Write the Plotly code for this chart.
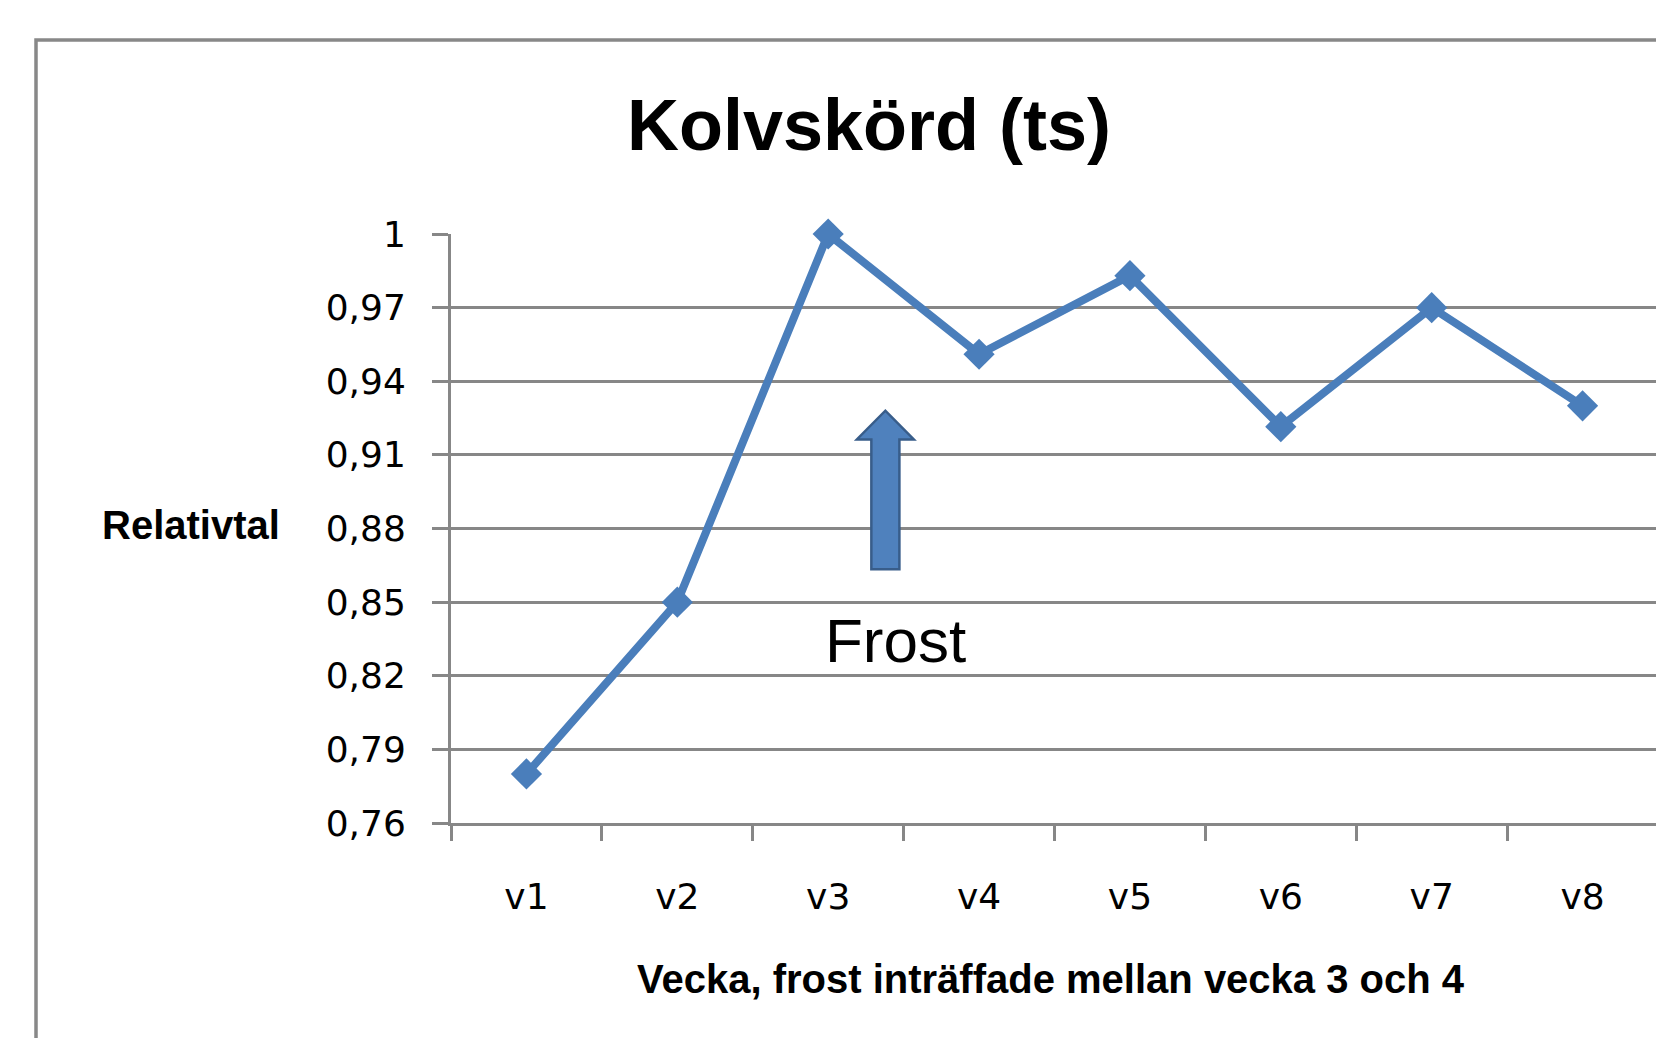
import plotly.graph_objects as go

# ---- data ----
categories = ["v1", "v2", "v3", "v4", "v5", "v6", "v7", "v8"]
relativtal = [0.78, 0.85, 1.0, 0.951, 0.983, 0.9215, 0.970, 0.930]
y_tickvals = [0.76, 0.79, 0.82, 0.85, 0.88, 0.91, 0.94, 0.97, 1.0]
y_ticktext = ["0,76", "0,79", "0,82", "0,85", "0,88", "0,91", "0,94", "0,97", "1"]

title_text = "Kolvskörd (ts)"
x_title = "Vecka, frost inträffade mellan vecka 3 och 4"
y_title = "Relativtal"
frost_text = "Frost"

# ---- layout geometry (pixels, page coords; page body has an 8px margin) ----
OFF = 8
W, H = 1664 - OFF, 1038 - OFF
L, R, T, B = 451 - OFF, 6, 234 - OFF, 223 - OFF
PW, PH = W - L - R, H - T - B

def px(xp):
    return (xp - OFF - L) / PW

def py(yp):
    return (H - B - (yp - OFF)) / PH

GRID = "#878787"
BLUE = "#4A7EBB"
FONT = "Liberation Sans, Arial, sans-serif"
TICKFONT = "DejaVu Sans, Verdana, sans-serif"

fig = go.Figure()
fig.add_trace(go.Scatter(
    x=categories, y=relativtal, mode="lines+markers",
    line=dict(color=BLUE, width=8),
    marker=dict(symbol="diamond", size=24, color=BLUE),
    showlegend=False, cliponaxis=False,
))

fig.update_layout(
    width=W, height=H,
    margin=dict(l=L, r=R, t=T, b=B),
    paper_bgcolor="white", plot_bgcolor="white",
    xaxis=dict(
        type="category", range=[-0.5, 7.5], tickson="boundaries",
        ticks="outside", ticklen=15, tickwidth=3, tickcolor=GRID,
        showgrid=False, showline=True, linecolor=GRID, linewidth=3,
        tickfont=dict(family=TICKFONT, size=36, color="#000"),
        ticklabelstandoff=40, zeroline=False,
    ),
    yaxis=dict(
        range=[0.76, 1.0], tickvals=y_tickvals, ticktext=y_ticktext,
        ticks="outside", ticklen=16, tickwidth=3, tickcolor=GRID,
        showgrid=True, gridcolor=GRID, gridwidth=3,
        showline=True, linecolor=GRID, linewidth=3,
        tickfont=dict(family=TICKFONT, size=36, color="#000"),
        ticklabelstandoff=19, zeroline=False,
    ),
)

# outer chart frame
fig.add_shape(type="rect", xref="paper", yref="paper",
              x0=px(36), x1=px(1720), y0=py(40), y1=py(1100),
              line=dict(color="#888888", width=3.5), layer="below")

# frost arrow (block arrow) in data coordinates between v3 and v4
ax_c, shaft_hw, head_hw = 2.379, 0.093, 0.189
y_tip, y_headbase, y_bottom = 0.928, 0.9163, 0.8634
path = (f"M {ax_c - shaft_hw},{y_bottom} L {ax_c - shaft_hw},{y_headbase} "
        f"L {ax_c - head_hw},{y_headbase} L {ax_c},{y_tip} "
        f"L {ax_c + head_hw},{y_headbase} L {ax_c + shaft_hw},{y_headbase} "
        f"L {ax_c + shaft_hw},{y_bottom} Z")
fig.add_shape(type="path", xref="x", yref="y", path=path,
              fillcolor="#4F81BD", line=dict(color="#385D8A", width=2.5))

# texts
fig.add_annotation(text=f"<b>{title_text}</b>", xref="paper", yref="paper",
                   x=px(869), y=py(125), xanchor="center", yanchor="middle",
                   showarrow=False, font=dict(family=FONT, size=72, color="#000"))
fig.add_annotation(text=f"<b>{x_title}</b>", xref="paper", yref="paper",
                   x=px(1051), y=py(979), xanchor="center", yanchor="middle",
                   showarrow=False, font=dict(family=FONT, size=40, color="#000"))
fig.add_annotation(text=f"<b>{y_title}</b>", xref="paper", yref="paper",
                   x=px(191), y=py(525), xanchor="center", yanchor="middle",
                   showarrow=False, font=dict(family=FONT, size=40, color="#000"))
fig.add_annotation(text=frost_text, xref="paper", yref="paper",
                   x=px(895), y=py(640), xanchor="center", yanchor="middle",
                   showarrow=False, font=dict(family=FONT, size=62, color="#000"))

fig.write_html("out.html")
